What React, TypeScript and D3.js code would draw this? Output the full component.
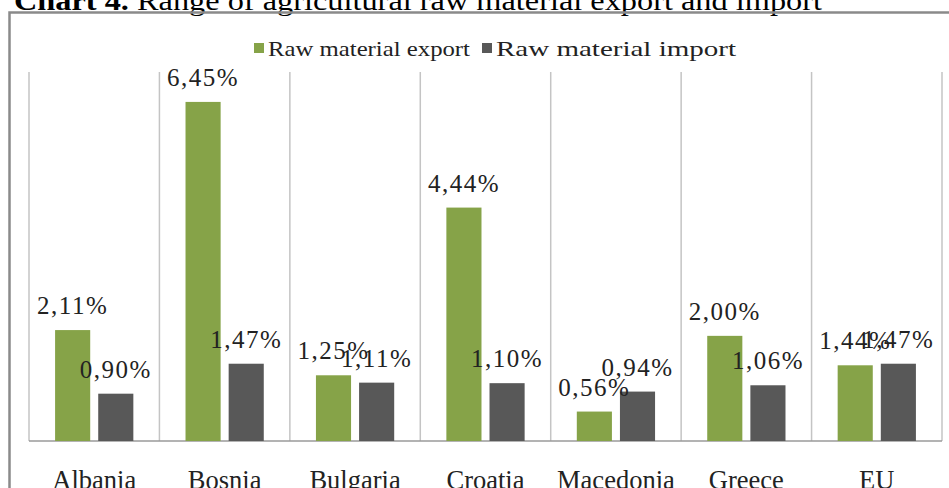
import React from "react";
import * as d3 from "d3";

const categories = ["Albania", "Bosnia", "Bulgaria", "Croatia", "Macedonia", "Greece", "EU"];
const exportValues = [2.11, 6.45, 1.25, 4.44, 0.56, 2.0, 1.44];
const importValues = [0.9, 1.47, 1.11, 1.1, 0.94, 1.06, 1.47];
const seriesNames = ["Raw material export", "Raw material import"];
const seriesColors = ["#86a348", "#585858"];
const yMax = 7;

const W = 949;
const H = 488;
const plot = { left: 29, right: 942, top: 73, bottom: 441 };
const font = "'Liberation Serif', 'Times New Roman', Times, serif";

const fmt = (v: number) => v.toFixed(2).replace(".", ",") + "%";

export default function App() {
  const x = d3.scaleBand<string>().domain(categories).range([plot.left, plot.right]).padding(0);
  const bw = x.bandwidth();
  const inner = d3
    .scaleBand<string>()
    .domain(seriesNames)
    .range([bw * 0.2, bw * 0.8])
    .paddingInner(0.186)
    .paddingOuter(0);
  const y = d3.scaleLinear().domain([0, yMax]).range([plot.bottom, plot.top]);

  const series = [exportValues, importValues];
  const boundaries = categories.map((c) => x(c) as number).concat([plot.right]);

  return (
    <svg
      width={W}
      height={H}
      viewBox={`0 0 ${W} ${H}`}
      style={{ position: "absolute", left: 0, top: 0, background: "#fff" }}
    >
      <rect x={0} y={0} width={W} height={H} fill="#fff" />
      {/* Title (cut at top) */}
      <text x={14} y={10} fontFamily={font} fontSize={27} fill="#000" textLength={808} lengthAdjust="spacingAndGlyphs">
        <tspan fontWeight="bold">Chart 4.</tspan>
        <tspan> Range of agricultural raw material export and import</tspan>
      </text>
      {/* Outer border */}
      <path d={`M9.5,${H + 2} V12.5 H${W + 2}`} fill="none" stroke="#8a8a8a" strokeWidth={2.5} />

      {/* Vertical gridlines */}
      {boundaries.map((bx, i) => (
        <line key={i} x1={bx} x2={bx} y1={plot.top - 1} y2={plot.bottom} stroke="#c4c4c4" strokeWidth={1.5} />
      ))}
      {/* Axis line */}
      <line x1={plot.left} x2={plot.right} y1={plot.bottom} y2={plot.bottom} stroke="#9a9a9a" strokeWidth={1.5} />

      {/* Bars */}
      {categories.map((c, ci) =>
        seriesNames.map((s, si) => {
          const v = series[si][ci];
          const bx = (x(c) as number) + (inner(s) as number);
          return (
            <rect
              key={c + s}
              x={bx}
              y={y(v)}
              width={inner.bandwidth()}
              height={plot.bottom - y(v)}
              fill={seriesColors[si]}
            />
          );
        })
      )}

      {/* Data labels */}
      {categories.map((c, ci) =>
        seriesNames.map((s, si) => {
          const v = series[si][ci];
          const cx = (x(c) as number) + (inner(s) as number) + inner.bandwidth() / 2;
          return (
            <text
              key={"l" + c + s}
              x={cx}
              y={y(v) - 16}
              textAnchor="middle"
              fontFamily={font}
              fontSize={25}
              letterSpacing={1.5}
              fill="#222"
            >
              {fmt(v)}
            </text>
          );
        })
      )}

      {/* Category labels */}
      {categories.map((c) => (
        <text
          key={"c" + c}
          x={(x(c) as number) + bw / 2}
          y={489}
          textAnchor="middle"
          fontFamily={font}
          fontSize={26.5}
          fill="#222"
        >
          {c}
        </text>
      ))}

      {/* Legend */}
      {seriesNames.map((s, i) => {
        const lx = i === 0 ? 254 : 482;
        return (
          <g key={"lg" + s}>
            <rect x={lx} y={43} width={10} height={10} fill={seriesColors[i]} />
            <text x={lx + 14} y={56} fontFamily={font} fontSize={22} fill="#222" textLength={i === 0 ? 202 : 240} lengthAdjust="spacingAndGlyphs">
              {s}
            </text>
          </g>
        );
      })}
    </svg>
  );
}
